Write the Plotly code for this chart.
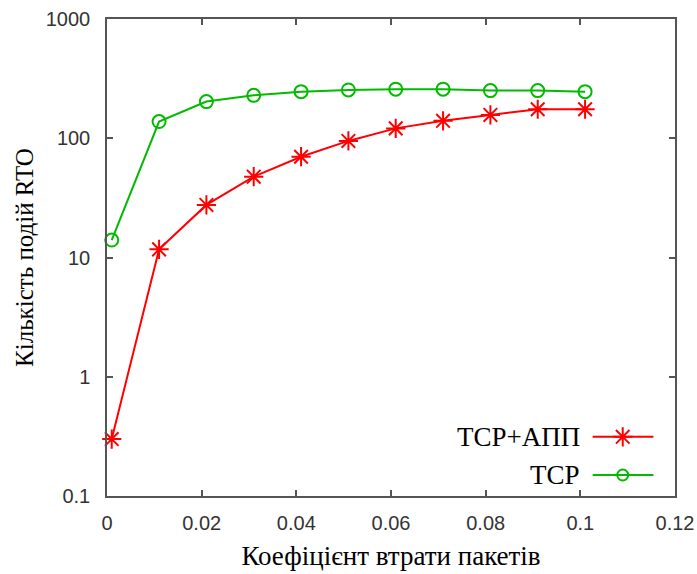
import plotly.graph_objects as go

loss = [0.001, 0.011, 0.021, 0.031, 0.041, 0.051, 0.061, 0.071, 0.081, 0.091, 0.101]
rto_tcp_app = [0.3, 11.7, 27.6, 47.6, 70, 95, 121, 140, 157, 175, 175]
rto_tcp = [14.0, 138, 203, 229, 246, 254, 258, 258, 251, 251, 246]

names = ["TCP+АПП", "TCP"]
colors = ["#ff0000", "#00bb00"]
symbols = ["asterisk-open", "circle-open"]

x_ticks = [0, 0.02, 0.04, 0.06, 0.08, 0.1, 0.12]
x_ticktext = ["0", "0.02", "0.04", "0.06", "0.08", "0.1", "0.12"]
y_ticks = [0.1, 1, 10, 100, 1000]
y_ticktext = ["0.1", "1", "10", "100", "1000"]

SERIF = "Liberation Serif"

fig = go.Figure()
for ys, nm, c, s, sz in [(rto_tcp_app, names[0], colors[0], symbols[0], 16),
                          (rto_tcp, names[1], colors[1], symbols[1], 13)]:
    fig.add_trace(go.Scatter(
        x=loss, y=ys, mode="lines+markers", name=nm,
        line=dict(color=c, width=2),
        marker=dict(symbol=s, size=sz, color=c, line=dict(color=c, width=2)),
        showlegend=False, cliponaxis=False,
    ))

# custom legend (text left of sample), drawn on an overlay paper-like axis
leg_y = [0.124, 0.044]
for i in range(2):
    fig.add_trace(go.Scatter(
        x=[0.855, 0.962], y=[leg_y[i], leg_y[i]], mode="lines",
        line=dict(color=colors[i], width=2), xaxis="x2", yaxis="y2",
        showlegend=False, hoverinfo="skip"))
    fig.add_trace(go.Scatter(
        x=[0.908], y=[leg_y[i]], mode="markers",
        marker=dict(symbol=symbols[i], size=16 if i == 0 else 11, color=colors[i],
                    line=dict(color=colors[i], width=2)),
        xaxis="x2", yaxis="y2", showlegend=False, hoverinfo="skip"))
    fig.add_annotation(x=0.836, y=leg_y[i], xref="x2", yref="y2", text=names[i],
                       showarrow=False, xanchor="right", yanchor="middle",
                       font=dict(family=SERIF, size=27, color="#000"))

axis_common = dict(showline=True, linecolor="#555", linewidth=1.5, mirror="ticks",
                   ticks="inside", ticklen=6, tickcolor="#555", tickwidth=1.5,
                   showgrid=False, zeroline=False, automargin=False,
                   tickfont=dict(family="Liberation Sans", size=20, color="#333"))

fig.update_layout(
    width=697, height=574,
    margin=dict(l=107, r=22, t=19, b=78),
    paper_bgcolor="white", plot_bgcolor="white",
    xaxis=dict(range=[0, 0.12], tickvals=x_ticks, ticktext=x_ticktext,
               ticklabelstandoff=8,
               title=dict(text="Коефіцієнт втрати пакетів", standoff=13,
                          font=dict(family=SERIF, size=27, color="#000")),
               **axis_common),
    yaxis=dict(type="log", range=[-1, 3], tickvals=y_ticks, ticktext=y_ticktext,
               ticklabelstandoff=11,
               title=dict(text="Кількість подій RTO", standoff=5,
                          font=dict(family=SERIF, size=25, color="#000")),
               **axis_common),
    xaxis2=dict(range=[0, 1], overlaying="x", visible=False, anchor="y2"),
    yaxis2=dict(range=[0, 1], overlaying="y", visible=False, anchor="x2"),
)

fig.write_html("out.html")
